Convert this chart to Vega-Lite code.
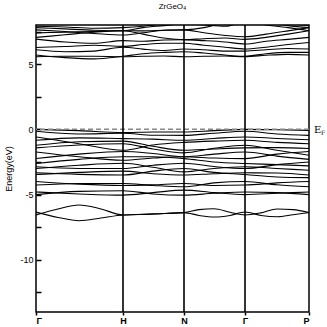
{
  "$schema": "https://vega.github.io/schema/vega-lite/v6.json",
  "width": 273,
  "height": 287,
  "autosize": {"type": "none"},
  "padding": {"left": 36, "top": 25, "right": 18, "bottom": 15},
  "background": "white",
  "config": {
    "view": {"stroke": "black", "strokeWidth": 1.5},
    "font": "Liberation Sans"
  },
  "title": {"text": "ZrGeO₄", "fontSize": 8, "fontWeight": "normal", "font": "Liberation Sans", "anchor": "middle", "offset": 13, "color": "black"},
  "resolve": {"axis": {"y": "independent"}},
  "datasets": {
    "bands": [
      {"b":"C1","k":0,"E":5.57},{"b":"C1","k":29,"E":5.6},{"b":"C1","k":58,"E":5.6},{"b":"C1","k":87,"E":5.57},{"b":"C1","k":107,"E":5.6},{"b":"C1","k":128,"E":5.62},{"b":"C1","k":148,"E":5.57},{"b":"C1","k":168,"E":5.6},{"b":"C1","k":189,"E":5.62},{"b":"C1","k":209,"E":5.57},{"b":"C1","k":230,"E":5.68},{"b":"C1","k":252,"E":5.75},{"b":"C1","k":273,"E":5.7},
      {"b":"C2","k":0,"E":5.7},{"b":"C2","k":29,"E":5.5},{"b":"C2","k":58,"E":5.4},{"b":"C2","k":87,"E":5.6},{"b":"C2","k":107,"E":5.8},{"b":"C2","k":128,"E":5.9},{"b":"C2","k":148,"E":5.95},{"b":"C2","k":168,"E":5.85},{"b":"C2","k":189,"E":5.7},{"b":"C2","k":209,"E":5.6},{"b":"C2","k":230,"E":5.8},{"b":"C2","k":252,"E":5.9},{"b":"C2","k":273,"E":5.9},
      {"b":"C3","k":0,"E":6.1},{"b":"C3","k":29,"E":5.95},{"b":"C3","k":58,"E":6.0},{"b":"C3","k":87,"E":6.3},{"b":"C3","k":107,"E":6.15},{"b":"C3","k":128,"E":6.05},{"b":"C3","k":148,"E":6.16},{"b":"C3","k":168,"E":6.1},{"b":"C3","k":189,"E":6.0},{"b":"C3","k":209,"E":6.0},{"b":"C3","k":230,"E":6.1},{"b":"C3","k":252,"E":6.2},{"b":"C3","k":273,"E":6.16},
      {"b":"C4","k":0,"E":6.28},{"b":"C4","k":29,"E":6.35},{"b":"C4","k":58,"E":6.45},{"b":"C4","k":87,"E":6.36},{"b":"C4","k":107,"E":6.5},{"b":"C4","k":128,"E":6.6},{"b":"C4","k":148,"E":6.6},{"b":"C4","k":168,"E":6.45},{"b":"C4","k":189,"E":6.3},{"b":"C4","k":209,"E":6.16},{"b":"C4","k":230,"E":6.3},{"b":"C4","k":252,"E":6.5},{"b":"C4","k":273,"E":6.66},
      {"b":"C5","k":0,"E":6.92},{"b":"C5","k":29,"E":6.7},{"b":"C5","k":58,"E":6.6},{"b":"C5","k":87,"E":6.8},{"b":"C5","k":107,"E":6.75},{"b":"C5","k":128,"E":6.85},{"b":"C5","k":148,"E":6.87},{"b":"C5","k":168,"E":6.8},{"b":"C5","k":189,"E":6.7},{"b":"C5","k":209,"E":6.54},{"b":"C5","k":230,"E":6.75},{"b":"C5","k":252,"E":6.9},{"b":"C5","k":273,"E":7.05},
      {"b":"C6","k":0,"E":7.05},{"b":"C6","k":29,"E":7.25},{"b":"C6","k":58,"E":7.45},{"b":"C6","k":87,"E":7.56},{"b":"C6","k":107,"E":7.3},{"b":"C6","k":128,"E":7.0},{"b":"C6","k":148,"E":6.87},{"b":"C6","k":168,"E":6.95},{"b":"C6","k":189,"E":7.0},{"b":"C6","k":209,"E":6.9},{"b":"C6","k":230,"E":7.05},{"b":"C6","k":252,"E":7.3},{"b":"C6","k":273,"E":7.56},
      {"b":"C7","k":0,"E":7.4},{"b":"C7","k":29,"E":7.45},{"b":"C7","k":58,"E":7.5},{"b":"C7","k":87,"E":7.56},{"b":"C7","k":107,"E":7.55},{"b":"C7","k":128,"E":7.6},{"b":"C7","k":148,"E":7.63},{"b":"C7","k":168,"E":7.4},{"b":"C7","k":189,"E":7.2},{"b":"C7","k":209,"E":7.1},{"b":"C7","k":230,"E":7.3},{"b":"C7","k":252,"E":7.55},{"b":"C7","k":273,"E":7.8},
      {"b":"C8","k":0,"E":7.63},{"b":"C8","k":29,"E":7.5},{"b":"C8","k":58,"E":7.35},{"b":"C8","k":87,"E":7.23},{"b":"C8","k":107,"E":7.4},{"b":"C8","k":128,"E":7.6},{"b":"C8","k":148,"E":7.63},{"b":"C8","k":168,"E":7.8},{"b":"C8","k":189,"E":8.2},{"b":"C8","k":209,"E":8.6},{"b":"C8","k":230,"E":8.2},{"b":"C8","k":252,"E":7.95},{"b":"C8","k":273,"E":7.8},
      {"b":"C9","k":0,"E":7.8},{"b":"C9","k":29,"E":7.7},{"b":"C9","k":58,"E":7.6},{"b":"C9","k":87,"E":7.56},{"b":"C9","k":107,"E":7.8},{"b":"C9","k":128,"E":7.95},{"b":"C9","k":148,"E":8.1},{"b":"C9","k":168,"E":8.0},{"b":"C9","k":189,"E":7.9},{"b":"C9","k":209,"E":8.2},{"b":"C9","k":230,"E":8.0},{"b":"C9","k":252,"E":7.8},{"b":"C9","k":273,"E":7.56},
      {"b":"C10","k":0,"E":7.9},{"b":"C10","k":29,"E":7.85},{"b":"C10","k":58,"E":7.75},{"b":"C10","k":87,"E":7.8},{"b":"C10","k":107,"E":7.9},{"b":"C10","k":128,"E":8.1},{"b":"C10","k":148,"E":8.2},{"b":"C10","k":168,"E":8.3},{"b":"C10","k":189,"E":8.4},{"b":"C10","k":209,"E":8.8},{"b":"C10","k":230,"E":8.4},{"b":"C10","k":252,"E":8.1},{"b":"C10","k":273,"E":7.95},
      {"b":"V1","k":0,"E":0.0},{"b":"V1","k":43,"E":-0.1},{"b":"V1","k":87,"E":-0.25},{"b":"V1","k":117,"E":-0.2},{"b":"V1","k":148,"E":-0.2},{"b":"V1","k":178,"E":-0.1},{"b":"V1","k":209,"E":0.0},{"b":"V1","k":241,"E":-0.03},{"b":"V1","k":273,"E":-0.08},
      {"b":"V2","k":0,"E":-0.15},{"b":"V2","k":43,"E":-0.35},{"b":"V2","k":87,"E":-0.3},{"b":"V2","k":117,"E":-0.45},{"b":"V2","k":148,"E":-0.46},{"b":"V2","k":178,"E":-0.3},{"b":"V2","k":209,"E":-0.15},{"b":"V2","k":241,"E":-0.35},{"b":"V2","k":273,"E":-0.46},
      {"b":"V3","k":0,"E":-0.58},{"b":"V3","k":43,"E":-1.1},{"b":"V3","k":87,"E":-1.6},{"b":"V3","k":117,"E":-1.2},{"b":"V3","k":148,"E":-1.0},{"b":"V3","k":178,"E":-0.9},{"b":"V3","k":209,"E":-0.84},{"b":"V3","k":241,"E":-1.0},{"b":"V3","k":273,"E":-1.1},
      {"b":"V4","k":0,"E":-0.84},{"b":"V4","k":43,"E":-0.65},{"b":"V4","k":87,"E":-0.71},{"b":"V4","k":117,"E":-0.75},{"b":"V4","k":148,"E":-0.84},{"b":"V4","k":178,"E":-0.7},{"b":"V4","k":209,"E":-0.58},{"b":"V4","k":241,"E":-0.7},{"b":"V4","k":273,"E":-0.8},
      {"b":"V5","k":0,"E":-1.22},{"b":"V5","k":43,"E":-0.95},{"b":"V5","k":87,"E":-0.9},{"b":"V5","k":117,"E":-1.3},{"b":"V5","k":148,"E":-1.6},{"b":"V5","k":178,"E":-1.5},{"b":"V5","k":209,"E":-1.42},{"b":"V5","k":241,"E":-1.4},{"b":"V5","k":273,"E":-1.47},
      {"b":"V6","k":0,"E":-1.42},{"b":"V6","k":43,"E":-1.2},{"b":"V6","k":87,"E":-1.1},{"b":"V6","k":117,"E":-1.5},{"b":"V6","k":148,"E":-1.8},{"b":"V6","k":178,"E":-1.45},{"b":"V6","k":209,"E":-1.22},{"b":"V6","k":241,"E":-1.6},{"b":"V6","k":273,"E":-1.98},
      {"b":"V7","k":0,"E":-1.73},{"b":"V7","k":43,"E":-2.1},{"b":"V7","k":87,"E":-2.37},{"b":"V7","k":117,"E":-2.2},{"b":"V7","k":148,"E":-2.1},{"b":"V7","k":178,"E":-2.2},{"b":"V7","k":209,"E":-2.24},{"b":"V7","k":241,"E":-1.9},{"b":"V7","k":273,"E":-1.7},
      {"b":"V8","k":0,"E":-2.24},{"b":"V8","k":43,"E":-1.9},{"b":"V8","k":87,"E":-1.7},{"b":"V8","k":117,"E":-1.85},{"b":"V8","k":148,"E":-2.1},{"b":"V8","k":178,"E":-1.9},{"b":"V8","k":209,"E":-1.73},{"b":"V8","k":241,"E":-2.05},{"b":"V8","k":273,"E":-2.3},
      {"b":"V9","k":0,"E":-2.62},{"b":"V9","k":43,"E":-2.3},{"b":"V9","k":87,"E":-2.1},{"b":"V9","k":117,"E":-2.1},{"b":"V9","k":148,"E":-2.24},{"b":"V9","k":178,"E":-2.5},{"b":"V9","k":209,"E":-2.62},{"b":"V9","k":241,"E":-2.7},{"b":"V9","k":273,"E":-2.8},
      {"b":"V10","k":0,"E":-2.87},{"b":"V10","k":43,"E":-3.0},{"b":"V10","k":87,"E":-3.0},{"b":"V10","k":117,"E":-2.75},{"b":"V10","k":148,"E":-2.6},{"b":"V10","k":178,"E":-2.85},{"b":"V10","k":209,"E":-3.0},{"b":"V10","k":241,"E":-2.7},{"b":"V10","k":273,"E":-2.5},
      {"b":"V11","k":0,"E":-3.0},{"b":"V11","k":43,"E":-2.75},{"b":"V11","k":87,"E":-2.6},{"b":"V11","k":117,"E":-2.9},{"b":"V11","k":148,"E":-3.26},{"b":"V11","k":178,"E":-3.0},{"b":"V11","k":209,"E":-2.87},{"b":"V11","k":241,"E":-3.0},{"b":"V11","k":273,"E":-3.13},
      {"b":"V12","k":0,"E":-3.33},{"b":"V12","k":43,"E":-3.45},{"b":"V12","k":87,"E":-3.5},{"b":"V12","k":117,"E":-3.2},{"b":"V12","k":148,"E":-3.0},{"b":"V12","k":178,"E":-3.3},{"b":"V12","k":209,"E":-3.46},{"b":"V12","k":241,"E":-3.65},{"b":"V12","k":273,"E":-3.7},
      {"b":"V13","k":0,"E":-3.46},{"b":"V13","k":43,"E":-3.3},{"b":"V13","k":87,"E":-3.2},{"b":"V13","k":117,"E":-3.4},{"b":"V13","k":148,"E":-3.5},{"b":"V13","k":178,"E":-3.4},{"b":"V13","k":209,"E":-3.33},{"b":"V13","k":241,"E":-3.35},{"b":"V13","k":273,"E":-3.5},
      {"b":"V14","k":0,"E":-4.0},{"b":"V14","k":43,"E":-4.2},{"b":"V14","k":87,"E":-4.3},{"b":"V14","k":117,"E":-4.25},{"b":"V14","k":148,"E":-4.15},{"b":"V14","k":178,"E":-4.3},{"b":"V14","k":209,"E":-4.27},{"b":"V14","k":241,"E":-4.1},{"b":"V14","k":273,"E":-4.0},
      {"b":"V15","k":0,"E":-4.27},{"b":"V15","k":43,"E":-4.15},{"b":"V15","k":87,"E":-4.15},{"b":"V15","k":117,"E":-4.3},{"b":"V15","k":148,"E":-4.4},{"b":"V15","k":178,"E":-4.1},{"b":"V15","k":209,"E":-4.0},{"b":"V15","k":241,"E":-4.25},{"b":"V15","k":273,"E":-4.4},
      {"b":"V16","k":0,"E":-4.8},{"b":"V16","k":43,"E":-4.95},{"b":"V16","k":87,"E":-5.04},{"b":"V16","k":117,"E":-4.85},{"b":"V16","k":148,"E":-4.66},{"b":"V16","k":178,"E":-4.85},{"b":"V16","k":209,"E":-5.0},{"b":"V16","k":241,"E":-4.9},{"b":"V16","k":273,"E":-4.8},
      {"b":"V17","k":0,"E":-5.0},{"b":"V17","k":43,"E":-4.75},{"b":"V17","k":87,"E":-4.7},{"b":"V17","k":117,"E":-4.95},{"b":"V17","k":148,"E":-5.04},{"b":"V17","k":178,"E":-4.9},{"b":"V17","k":209,"E":-4.8},{"b":"V17","k":241,"E":-4.85},{"b":"V17","k":273,"E":-5.0},
      {"b":"L1","k":0,"E":-6.56},{"b":"L1","k":22,"E":-6.1},{"b":"L1","k":43,"E":-5.8},{"b":"L1","k":65,"E":-6.1},{"b":"L1","k":87,"E":-6.56},{"b":"L1","k":117,"E":-6.47},{"b":"L1","k":148,"E":-6.38},{"b":"L1","k":163,"E":-6.15},{"b":"L1","k":178,"E":-6.08},{"b":"L1","k":194,"E":-6.35},{"b":"L1","k":209,"E":-6.56},{"b":"L1","k":225,"E":-6.4},{"b":"L1","k":241,"E":-6.1},{"b":"L1","k":257,"E":-6.15},{"b":"L1","k":273,"E":-6.38},
      {"b":"L2","k":0,"E":-6.34},{"b":"L2","k":22,"E":-6.75},{"b":"L2","k":43,"E":-7.0},{"b":"L2","k":65,"E":-6.8},{"b":"L2","k":87,"E":-6.56},{"b":"L2","k":117,"E":-6.5},{"b":"L2","k":148,"E":-6.38},{"b":"L2","k":163,"E":-6.6},{"b":"L2","k":178,"E":-6.72},{"b":"L2","k":194,"E":-6.6},{"b":"L2","k":209,"E":-6.34},{"b":"L2","k":225,"E":-6.6},{"b":"L2","k":241,"E":-6.7},{"b":"L2","k":257,"E":-6.55},{"b":"L2","k":273,"E":-6.38}
    ],
    "sym": [{"k": 87}, {"k": 148}, {"k": 209}],
    "fermi": [{"E": 0}],
    "efl": [{"k": 273, "E": 0, "t": "E", "s": "F"}]
  },
  "layer": [
    {
      "data": {"name": "bands"},
      "mark": {"type": "line", "clip": true, "color": "black", "strokeWidth": 1.1, "interpolate": "monotone"},
      "encoding": {
        "x": {"field": "k", "type": "quantitative", "scale": {"domain": [0, 273], "nice": false, "zero": false},
          "axis": {"title": null, "values": [0, 87, 148, 209, 273], "grid": false, "domain": false, "tickSize": 3, "tickColor": "black", "tickWidth": 1.5,
            "labelExpr": "datum.value == 0 || datum.value == 209 ? 'Γ' : datum.value == 87 ? 'H' : datum.value == 148 ? 'N' : 'P'",
            "labelFontSize": 9, "labelFontWeight": "bold", "labelColor": "black", "labelPadding": 1}},
        "y": {"field": "E", "type": "quantitative", "scale": {"domain": [-14, 8], "nice": false, "zero": false},
          "axis": {"orient": "left", "title": "Energy(eV)", "values": [-10, -5, 0, 5], "grid": false, "domain": false, "ticks": false,
            "labelExpr": "datum.value == -10 ? '-10' : datum.value == -5 ? '-5' : datum.value == 0 ? '0' : '5'",
            "labelFontSize": 9, "labelColor": "black", "labelPadding": 3,
            "titleFontSize": 9, "titleFontWeight": "normal", "titleColor": "black", "titlePadding": 6}},
        "detail": {"field": "b"}
      }
    },
    {
      "data": {"name": "fermi"},
      "mark": {"type": "rule", "color": "#888888", "strokeWidth": 1.5, "strokeDash": [5, 3]},
      "encoding": {"y": {"field": "E", "type": "quantitative",
        "axis": {"orient": "left", "title": null, "values": [-12.5, -10, -7.5, -5, -2.5, 0, 2.5, 5, 7.5], "grid": false, "domain": false, "labels": false,
          "tickSize": -5, "tickColor": "black", "tickWidth": 1.5}}}
    },
    {
      "data": {"name": "sym"},
      "mark": {"type": "rule", "color": "black", "strokeWidth": 1.6},
      "encoding": {"x": {"field": "k", "type": "quantitative"}}
    },
    {
      "data": {"name": "efl"},
      "mark": {"type": "text", "font": "DejaVu Serif", "fontSize": 10, "align": "left", "baseline": "middle", "dx": 5, "dy": 1, "color": "black", "fill": "black"},
      "encoding": {"x": {"field": "k", "type": "quantitative"}, "y": {"field": "E", "type": "quantitative", "axis": null}, "text": {"field": "t"}}
    },
    {
      "data": {"name": "efl"},
      "mark": {"type": "text", "font": "DejaVu Serif", "fontSize": 6, "align": "left", "baseline": "middle", "dx": 12, "dy": 4, "color": "black", "fill": "black"},
      "encoding": {"x": {"field": "k", "type": "quantitative"}, "y": {"field": "E", "type": "quantitative", "axis": null}, "text": {"field": "s"}}
    }
  ]
}
